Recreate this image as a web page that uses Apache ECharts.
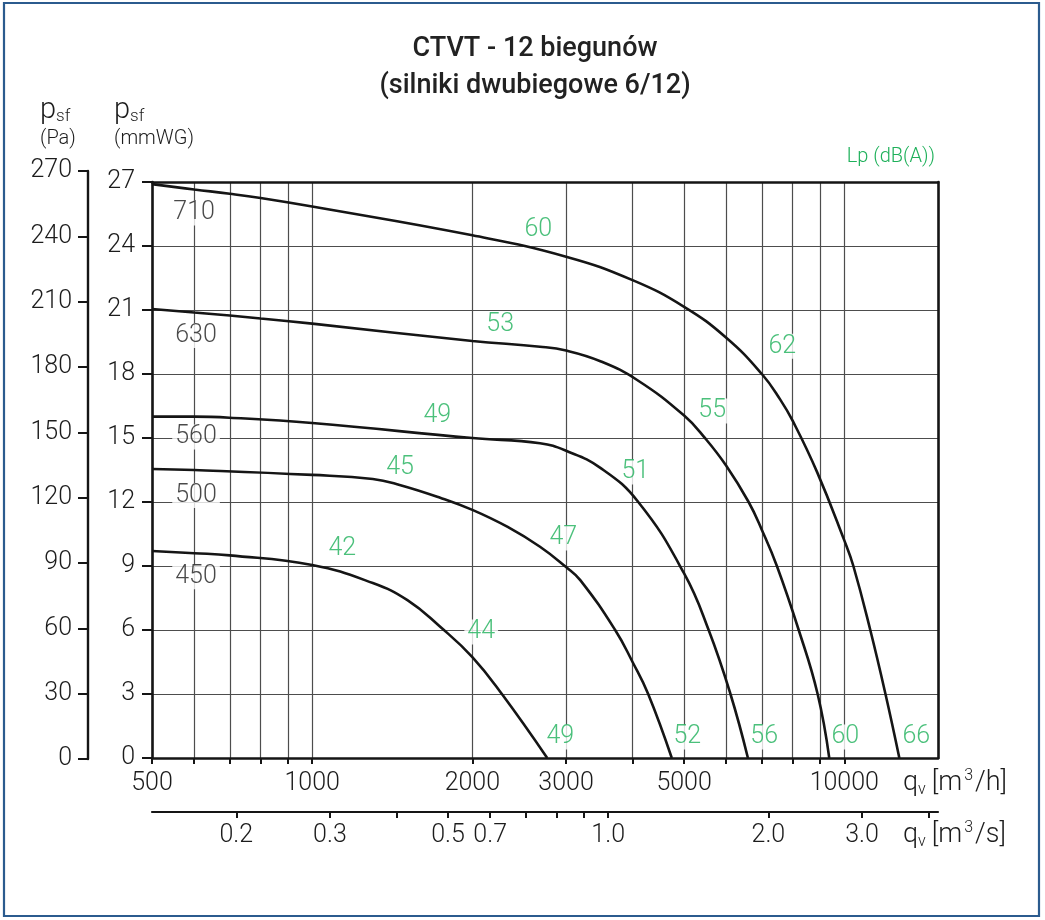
<!DOCTYPE html>
<html>
<head>
<meta charset="utf-8">
<title>CTVT - 12 biegunów</title>
<script src="https://cdn.jsdelivr.net/npm/echarts@6.0.0/dist/echarts.min.js"></script>
<style>
    html, body { margin: 0; padding: 0; background: #fff; }
    #chart { width: 1045px; height: 920px; }
</style>
</head>
<body>
<div id="chart"></div>
<script>
// axis ticks and labels
var qhTicks = [500, 600, 700, 800, 900, 1000, 2000, 3000, 4000, 5000, 6000, 7000, 8000, 9000, 10000];
var qhLabels = [500, 1000, 2000, 3000, 5000, 10000];
var qsTicks = [0.2, 0.3, 0.4, 0.5, 0.6, 0.7, 0.8, 0.9, 1, 2, 3, 4];
var qsLabelValues = [0.2, 0.3, 0.5, 0.6, 1, 2, 3];
var qsLabelTexts = ['0.2', '0.3', '0.5', '0.7', '1.0', '2.0', '3.0'];

// fan curves: [qv m3/h, psf mmWG]
var curve710 = [[500, 26.9], [600, 26.65], [700, 26.45], [800, 26.25], [1000, 25.85], [2000, 24.5], [3000, 23.5],
    [4000, 22.4], [5000, 21.15], [6000, 19.7], [7000, 18.0], [7580, 16.8], [8000, 15.8], [8890, 13.4],
    [10000, 10.2], [10400, 9.0], [11190, 6.0], [11950, 3.0], [12690, 0]];
var curve630 = [[500, 21.05], [600, 20.88], [700, 20.74], [800, 20.6], [1000, 20.36], [2000, 19.55], [2680, 19.28],
    [3000, 19.1], [3480, 18.6], [4080, 17.72], [5000, 16.05], [5480, 14.98], [6000, 13.7], [6610, 12.0],
    [7000, 10.69], [7470, 9.0], [8210, 6.0], [8910, 3.0], [9370, 0]];
var curve560 = [[500, 16.0], [600, 16.0], [700, 15.95], [1000, 15.7], [2000, 15.0], [2680, 14.75], [3000, 14.4],
    [3480, 13.6], [4100, 12.0], [5000, 8.65], [5560, 6.0], [6110, 3.0], [6590, 0]];
var curve500 = [[500, 13.55], [600, 13.5], [1000, 13.27], [1300, 13.08], [1460, 12.8], [1740, 12.2],
    [2000, 11.63], [2330, 10.83], [2680, 9.9], [3000, 8.95], [3190, 8.34], [3710, 6.0], [4000, 4.5],
    [4280, 3.0], [4740, 0]];
var curve450 = [[500, 9.7], [600, 9.6], [700, 9.5], [1000, 9.05], [1300, 8.2], [1510, 7.4], [1740, 6.15],
    [2000, 4.73], [2280, 2.95], [2765, 0]];
var curves = [curve710, curve630, curve560, curve500, curve450];

// impeller size labels
var sizeLabelText = ['710', '630', '560', '500', '450'];
var sizeLabelQ = [600, 605, 605, 605, 605];
var sizeLabelP = [25.55, 19.8, 15.05, 12.3, 8.5];

// sound pressure labels Lp dB(A)
var dbLabelText = ['60', '53', '62', '55', '49', '51', '45', '47', '42', '44', '49', '52', '56', '60', '66'];
var dbLabelQ = [2660, 2256, 7645, 5647, 1718, 4047, 1463, 2964, 1139, 2078, 2926, 5069, 7072, 10043, 13654];
var dbLabelP = [24.75, 20.3, 19.3, 16.27, 16.03, 13.41, 13.59, 10.31, 9.8, 5.91, 0.98, 0.98, 0.98, 0.98, 0.98];

var FONT = "Roboto, 'DejaVu Sans', sans-serif";
var GREEN = '#1eb05a';
var INK = '#151515';
var TXT = '#1c1c1c';
var GRIDC = '#4d4d4d';

var chart = echarts.init(document.getElementById('chart'), null, {renderer: 'canvas'});

var series = curves.map(function (c, i) {
    return {
        name: sizeLabelText[i],
        type: 'line',
        xAxisIndex: 0,
        yAxisIndex: 0,
        data: c,
        smooth: 0.45,
        symbol: 'none',
        z: 5,
        lineStyle: {color: INK, width: 2.6}
    };
});

series.push({
    type: 'scatter',
    xAxisIndex: 0,
    yAxisIndex: 0,
    symbolSize: 0,
    silent: true,
    z: 4,
    data: sizeLabelText.map(function (t, i) {
        return {value: [sizeLabelQ[i], sizeLabelP[i]], name: t};
    }),
    label: {
        show: true, position: 'inside', formatter: '{b}',
        color: TXT, fontSize: 25, fontFamily: FONT, fontWeight: 300,
        backgroundColor: '#fff', padding: [0, 3]
    }
});

series.push({
    type: 'scatter',
    xAxisIndex: 0,
    yAxisIndex: 0,
    symbolSize: 0,
    silent: true,
    z: 4,
    data: dbLabelText.map(function (t, i) {
        return {value: [dbLabelQ[i], dbLabelP[i]], name: t};
    }),
    label: {
        show: true, position: 'inside', formatter: '{b}',
        color: GREEN, fontSize: 25, fontFamily: FONT, fontWeight: 300,
        backgroundColor: '#fff', padding: [0, 3]
    }
});

var labelStyle = {color: TXT, fontSize: 25, fontFamily: FONT, fontWeight: 300};

var option = {
    animation: false,
    backgroundColor: '#fff',
    title: {
        text: 'CTVT - 12 biegunów\n(silniki dwubiegowe 6/12)',
        left: 530, top: 26, textAlign: 'center',
        textStyle: {fontFamily: FONT, fontSize: 27, fontWeight: 500, color: '#222', lineHeight: 37}
    },
    grid: [
        {left: 152, top: 182, width: 786, height: 576, outerBoundsMode: 'none'},
        {left: 88, top: 171, width: 10, height: 588, outerBoundsMode: 'none'}
    ],
    xAxis: [
        {
            type: 'log', gridIndex: 0, min: 500, max: 15000, position: 'bottom',
            axisLine: {show: true, onZero: false, lineStyle: {color: INK, width: 2.6}},
            axisTick: {show: true, customValues: qhTicks, length: 6, lineStyle: {color: INK, width: 2}},
            axisLabel: {customValues: qhLabels, margin: 13, formatter: function (v) { return String(Math.round(v)); }, ...labelStyle},
            splitLine: {show: true, lineStyle: {color: GRIDC, width: 1.2}},
            minorTick: {show: false}, minorSplitLine: {show: false}
        },
        {
            type: 'log', gridIndex: 0, min: 500 / 3600, max: 15000 / 3600, position: 'bottom', offset: 54,
            axisLine: {show: true, onZero: false, lineStyle: {color: INK, width: 2.2}},
            axisTick: {show: true, customValues: qsTicks, length: 6, lineStyle: {color: INK, width: 2}},
            axisLabel: {
                customValues: qsLabelValues, margin: 11, ...labelStyle,
                formatter: function (v) {
                    for (var i = 0; i < qsLabelValues.length; i++) {
                        if (Math.abs(qsLabelValues[i] - v) < 1e-6) return qsLabelTexts[i];
                    }
                    return '';
                }
            },
            splitLine: {show: false}
        },
        {
            type: 'log', gridIndex: 0, min: 500, max: 15000, position: 'top',
            axisLine: {show: true, onZero: false, lineStyle: {color: INK, width: 2.6}},
            axisTick: {show: false}, axisLabel: {show: false}, splitLine: {show: false}
        },
        {type: 'value', gridIndex: 1, show: false}
    ],
    yAxis: [
        {
            type: 'value', gridIndex: 0, min: 0, max: 27, interval: 3, position: 'left',
            axisLine: {show: true, onZero: false, lineStyle: {color: INK, width: 2.6}},
            axisTick: {show: true, length: 10, lineStyle: {color: INK, width: 2}},
            axisLabel: {margin: 17, ...labelStyle},
            splitLine: {show: true, lineStyle: {color: GRIDC, width: 1.2}}
        },
        {
            type: 'value', gridIndex: 0, min: 0, max: 27, interval: 3, position: 'right',
            axisLine: {show: true, onZero: false, lineStyle: {color: INK, width: 2.6}},
            axisTick: {show: false}, axisLabel: {show: false}, splitLine: {show: false}
        },
        {
            type: 'value', gridIndex: 1, min: 0, max: 270, interval: 30, position: 'left',
            axisLine: {show: true, onZero: false, lineStyle: {color: INK, width: 2.4}},
            axisTick: {show: true, length: 10, lineStyle: {color: INK, width: 2}},
            axisLabel: {margin: 16, ...labelStyle},
            splitLine: {show: false}
        }
    ],
    graphic: [
        {
            type: 'rect', silent: true, z: 100,
            shape: {x: 4, y: 3, width: 1035, height: 913},
            style: {fill: 'none', stroke: '#2b5b8e', lineWidth: 2.2}
        },
        {
            type: 'text', left: 40, top: 96,
            style: {
                text: '{p|p}{s|sf}\n{u|(Pa)}', fontFamily: FONT, fill: TXT,
                rich: {
                    p: {fontSize: 29, fontWeight: 300, fontFamily: FONT, verticalAlign: 'bottom', lineHeight: 30},
                    s: {fontSize: 17, fontWeight: 300, fontFamily: FONT, verticalAlign: 'bottom', lineHeight: 22},
                    u: {fontSize: 20, fontWeight: 300, fontFamily: FONT, lineHeight: 28}
                }
            }
        },
        {
            type: 'text', left: 114, top: 96,
            style: {
                text: '{p|p}{s|sf}\n{u|(mmWG)}', fontFamily: FONT, fill: TXT,
                rich: {
                    p: {fontSize: 29, fontWeight: 300, fontFamily: FONT, verticalAlign: 'bottom', lineHeight: 30},
                    s: {fontSize: 17, fontWeight: 300, fontFamily: FONT, verticalAlign: 'bottom', lineHeight: 22},
                    u: {fontSize: 20, fontWeight: 300, fontFamily: FONT, lineHeight: 28}
                }
            }
        },
        {
            type: 'text', right: 110, top: 147,
            style: {text: 'Lp (dB(A))', fill: GREEN, fontSize: 20, fontWeight: 300, fontFamily: FONT}
        },
        {
            type: 'text', left: 903, top: 768,
            style: {
                text: '{q|q}{v|v}  {q|[m}{e|3}{q|/h]}', fill: TXT, fontFamily: FONT,
                rich: {
                    q: {fontSize: 27, fontWeight: 300, fontFamily: FONT, lineHeight: 30},
                    v: {fontSize: 16, fontWeight: 300, fontFamily: FONT, verticalAlign: 'bottom', lineHeight: 24},
                    e: {fontSize: 16, fontWeight: 300, fontFamily: FONT, verticalAlign: 'top', lineHeight: 26, padding: [0, 2]}
                }
            }
        },
        {
            type: 'text', left: 903, top: 820,
            style: {
                text: '{q|q}{v|v}  {q|[m}{e|3}{q|/s]}', fill: TXT, fontFamily: FONT,
                rich: {
                    q: {fontSize: 27, fontWeight: 300, fontFamily: FONT, lineHeight: 30},
                    v: {fontSize: 16, fontWeight: 300, fontFamily: FONT, verticalAlign: 'bottom', lineHeight: 24},
                    e: {fontSize: 16, fontWeight: 300, fontFamily: FONT, verticalAlign: 'top', lineHeight: 26, padding: [0, 2]}
                }
            }
        }
    ],
    series: series
};

chart.setOption(option);
</script>
</body>
</html>
